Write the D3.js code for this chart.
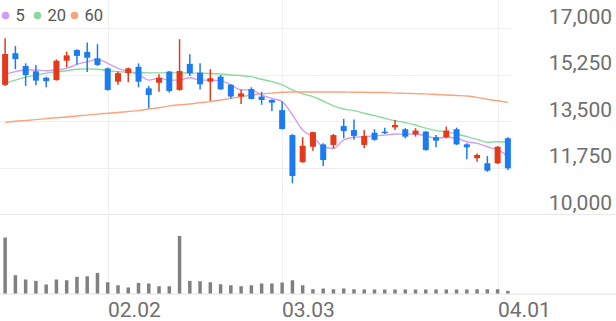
<!DOCTYPE html>
<html>
<head>
<meta charset="utf-8">
<script src="https://cdn.jsdelivr.net/npm/d3@7"></script>
<style>
  body { margin: 0; background: #fff; }
  text { font-family: Roboto, "Noto Sans", sans-serif; }
</style>
</head>
<body>
<svg id="chart" width="616" height="321"></svg>
<script>
// trading days shown on the chart
var dates = ["01.19","01.20","01.21","01.22","01.25","01.26","01.27","01.28","01.29","02.01",
    "02.02","02.03","02.04","02.05","02.08","02.09","02.15","02.16","02.17","02.18",
    "02.19","02.22","02.23","02.24","02.25","02.26","03.02","03.03","03.04","03.05",
    "03.08","03.09","03.10","03.11","03.12","03.15","03.16","03.17","03.18","03.19",
    "03.22","03.23","03.24","03.25","03.26","03.29","03.30","03.31","04.01","04.02"];

var open = [14860,16050,15570,15370,15130,15040,15770,16170,16100,15860,
    15480,14980,15300,15540,14730,14940,15360,14670,15650,15320,
    14980,15170,14860,14420,14700,14420,14290,13910,12970,11950,
    12530,12620,12600,13310,13160,12600,13060,13100,13260,13190,
    13000,13100,12890,12890,13190,12620,12100,11910,11910,12850];
var high = [16610,16320,15670,15610,15170,15820,16110,16200,16450,16390,
    15510,15360,15510,15670,14820,15260,15380,16580,16010,15670,
    15450,15230,14880,14690,14770,14600,14320,14230,13010,12890,
    13100,12660,13010,13580,13560,13160,13190,13250,13540,13230,
    13230,13120,12970,13290,13250,12660,12280,12180,12560,12890];
var low = [14820,15450,14820,14850,14770,15020,15520,15630,15340,15570,
    14640,14860,14960,14770,13980,14600,14570,14640,15190,14690,
    14260,14670,14350,14140,14320,14110,13880,13180,11160,11930,
    12380,11810,12470,12850,12790,12470,12760,13010,13160,12850,
    12910,12380,12510,12850,12600,12060,11970,11590,11880,11660];
var close = [16020,15830,15230,15020,15000,15770,15970,15950,15880,15610,
    14670,15300,15480,14980,14480,15130,14630,15380,15300,14880,
    15110,14690,14420,14540,14330,14290,14190,13200,11430,12570,
    13080,12030,12970,13120,12940,12940,12790,13040,13350,12910,
    13140,12410,12760,13140,12620,12510,12220,11630,12530,11720];

var ma5 = [15260,15360,15420,15420,15390,15420,15480,15630,15730,15820,
    15670,15480,15360,15250,15040,15110,15040,15040,15130,15040,
    15040,15020,14860,14670,14670,14470,14350,14230,13730,13160,
    12910,12530,12470,12790,12890,12910,12940,12970,13010,13000,
    13010,12940,12850,12890,12850,12720,12660,12530,12410,12180];
var ma20 = [14920,15040,15150,15230,15300,15360,15390,15450,15460,15450,
    15390,15360,15330,15320,15310,15310,15310,15310,15300,15300,
    15290,15270,15230,15210,15170,15070,14980,14860,14670,14520,
    14420,14250,14070,13950,13890,13790,13700,13600,13510,13440,
    13350,13230,13140,13100,13010,12910,12810,12700,12720,12700];
var ma60 = [13450,13490,13520,13550,13590,13620,13650,13690,13720,13760,
    13790,13820,13860,13890,13950,14000,14070,14110,14140,14190,
    14230,14290,14350,14420,14470,14520,14550,14580,14590,14590,
    14590,14590,14590,14590,14580,14580,14570,14570,14550,14540,
    14530,14520,14500,14480,14460,14440,14390,14320,14260,14200];

// volume, thousands of shares
var volume = [2240,730,560,505,360,560,530,665,690,825,
    450,330,240,425,400,290,290,2300,505,490,
    450,370,330,290,330,400,400,440,530,330,
    170,200,170,200,170,160,160,160,160,160,
    160,160,160,160,160,160,170,170,170,105];

var yTicks = [10000, 11750, 13500, 15250, 17000];
var xTicks = ["02.02", "03.03", "04.01"];
var maNames = ["5", "20", "60"];
var maColors = ["#d39cf0", "#8bd9a2", "#f7a47f"];

var upColor = "#e6381a",
    downColor = "#1b7bf0";

var svg = d3.select("#chart"),
    width = +svg.attr("width"),
    height = +svg.attr("height");

var plotRight = 513;

var x = d3.scaleBand()
    .domain(d3.range(dates.length))
    .range([0, plotRight]);
var cx = function(i) { return x(i) + x.bandwidth() / 2; };

var y = d3.scaleLinear()
    .domain([10000, 17000])
    .range([214, 28]);

var volBase = 293.5;
var yv = d3.scaleLinear()
    .domain([0, d3.max(volume)])
    .range([volBase, volBase - 57.5]);

// grid
var grid = svg.append("g");
grid.selectAll(".hgrid")
    .data(yTicks.slice(1))
    .enter().append("line")
    .attr("x1", 0).attr("x2", plotRight)
    .attr("y1", function(d) { return Math.round(y(d)) + 0.5; })
    .attr("y2", function(d) { return Math.round(y(d)) + 0.5; })
    .attr("stroke", "#efefef");
grid.append("line")
    .attr("x1", 0).attr("x2", width)
    .attr("y1", Math.round(y(10000)) + 0.5).attr("y2", Math.round(y(10000)) + 0.5)
    .attr("stroke", "#e8e8e8");
grid.selectAll(".vgrid")
    .data(xTicks)
    .enter().append("line")
    .attr("x1", function(d) { return Math.round(cx(dates.indexOf(d))) + 0.5; })
    .attr("x2", function(d) { return Math.round(cx(dates.indexOf(d))) + 0.5; })
    .attr("y1", 0).attr("y2", volBase)
    .attr("stroke", "#efefef");
grid.append("line")
    .attr("x1", 0).attr("x2", width)
    .attr("y1", volBase + 0.5).attr("y2", volBase + 0.5)
    .attr("stroke", "#e2e2e2");

// y labels
svg.append("g").selectAll("text")
    .data(yTicks)
    .enter().append("text")
    .attr("x", 612)
    .attr("y", function(d) { return y(d) - 4.5; })
    .attr("text-anchor", "end")
    .attr("font-size", 21)
    .attr("fill", "#6f6f6f")
    .text(function(d) { return d3.format(",")(d); });

// x labels
svg.append("g").selectAll("text")
    .data(xTicks)
    .enter().append("text")
    .attr("x", function(d) { return Math.round(cx(dates.indexOf(d))); })
    .attr("y", 316.5)
    .attr("font-size", 21)
    .attr("fill", "#6f6f6f")
    .text(function(d) { return d; });

// moving averages
var mas = [ma5, ma20, ma60];
var line = d3.line()
    .x(function(d, i) { return cx(i); })
    .y(function(d) { return y(d); })
    .curve(d3.curveMonotoneX);
svg.append("g").selectAll("path")
    .data(mas)
    .enter().append("path")
    .attr("d", line)
    .attr("fill", "none")
    .attr("stroke", function(d, i) { return maColors[i]; })
    .attr("stroke-width", 1.4);

// candles
var candle = svg.append("g").selectAll("g")
    .data(d3.range(dates.length))
    .enter().append("g")
    .attr("fill", function(i) { return close[i] >= open[i] ? upColor : downColor; })
    .attr("stroke", function(i) { return close[i] >= open[i] ? upColor : downColor; });
candle.append("line")
    .attr("x1", function(i) { return cx(i); })
    .attr("x2", function(i) { return cx(i); })
    .attr("y1", function(i) { return y(high[i]); })
    .attr("y2", function(i) { return y(low[i]); })
    .attr("stroke-width", 1.5);
candle.append("rect")
    .attr("x", function(i) { return cx(i) - 3; })
    .attr("width", 6)
    .attr("y", function(i) { return y(Math.max(open[i], close[i])); })
    .attr("height", function(i) { return Math.max(1.5, Math.abs(y(open[i]) - y(close[i]))); })
    .attr("stroke", "none");

// volume
svg.append("g").selectAll("rect")
    .data(volume)
    .enter().append("rect")
    .attr("x", function(d, i) { return cx(i) - 1.75; })
    .attr("width", 3.5)
    .attr("y", function(d) { return yv(d); })
    .attr("height", function(d) { return volBase - yv(d); })
    .attr("fill", "#808080");

// legend
var legend = svg.append("g");
var legX = [5.5, 37.5, 74.5];
maNames.forEach(function(name, i) {
    legend.append("circle")
        .attr("cx", legX[i]).attr("cy", 15.5).attr("r", 3.8)
        .attr("fill", maColors[i]);
    legend.append("text")
        .attr("x", legX[i] + 10).attr("y", 21)
        .attr("font-size", 16.5)
        .attr("fill", "#555")
        .text(name);
});
</script>
</body>
</html>
